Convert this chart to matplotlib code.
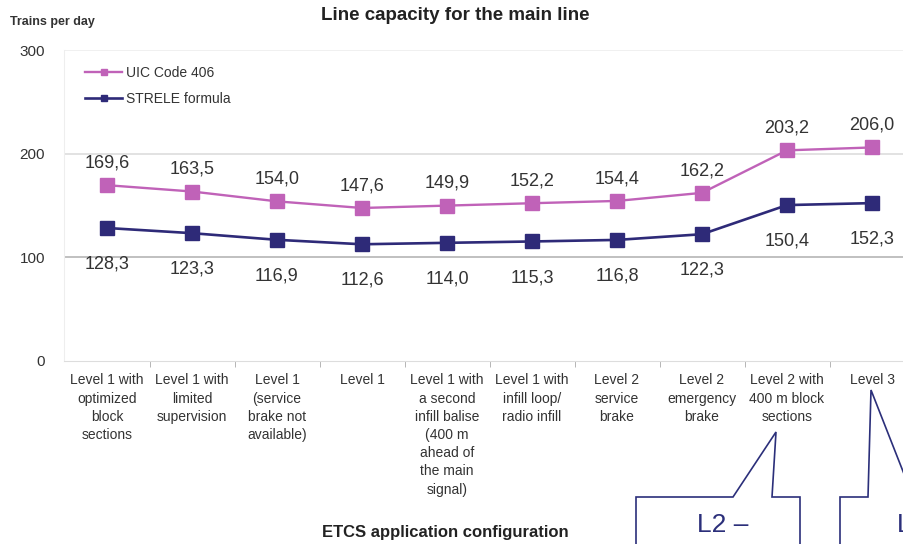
import matplotlib
matplotlib.use('Agg')
import matplotlib.pyplot as plt
from matplotlib.patches import Polygon
from matplotlib.ticker import FixedLocator

plt.rcParams['font.family'] = ['Liberation Sans', 'DejaVu Sans']

categories = [
    "Level 1 with\noptimized\nblock\nsections",
    "Level 1 with\nlimited\nsupervision",
    "Level 1\n(service\nbrake not\navailable)",
    "Level 1",
    "Level 1 with\na second\ninfill balise\n(400 m\nahead of\nthe main\nsignal)",
    "Level 1 with\ninfill loop/\nradio infill",
    "Level 2\nservice\nbrake",
    "Level 2\nemergency\nbrake",
    "Level 2 with\n400 m block\nsections",
    "Level 3",
]
uic_406 = [169.6, 163.5, 154.0, 147.6, 149.9, 152.2, 154.4, 162.2, 203.2, 206.0]
strele = [128.3, 123.3, 116.9, 112.6, 114.0, 115.3, 116.8, 122.3, 150.4, 152.3]

UIC_COL = '#c062b8'
STR_COL = '#2e2a78'
TXT = '#333333'

W, H = 904, 544
fig = plt.figure(figsize=(W / 100, H / 100), dpi=100)
ax = fig.add_axes([64.5 / W, 183 / H, 850 / W, 311 / H])

x = list(range(len(categories)))
ax.plot(x, uic_406, color=UIC_COL, lw=1.7, marker='s', ms=10, label='UIC Code 406')
ax.plot(x, strele, color=STR_COL, lw=1.9, marker='s', ms=10, label='STRELE formula')

def fmt(v):
    return f"{v:.1f}".replace('.', ',')

# UIC values above the markers, STRELE values below
for i, v in enumerate(uic_406):
    ax.annotate(fmt(v), (i, v), xytext=(0, 16), textcoords='offset points',
                ha='center', va='center', fontsize=13, color=TXT)
for i, v in enumerate(strele):
    ax.annotate(fmt(v), (i, v), xytext=(0, -26), textcoords='offset points',
                ha='center', va='center', fontsize=13, color=TXT)

ax.set_xlim(-0.5, len(categories) - 0.5)
ax.set_ylim(0, 300)
ax.set_yticks([0, 100, 200, 300])
ax.set_yticklabels(['0', '100', '200', '300'], fontsize=11, color=TXT)
ax.tick_params(axis='y', length=0, pad=14)
ax.set_xticks(x)
ax.set_xticklabels(categories, fontsize=10, color=TXT, linespacing=1.38, va='top')
ax.tick_params(axis='x', length=0, pad=9)
ax.xaxis.set_minor_locator(FixedLocator([i + 0.5 for i in range(len(categories) - 1)]))
ax.tick_params(axis='x', which='minor', length=4, color='#aaaaaa', direction='out')

for y, c in [(100, '#b5b5b5'), (200, '#dddddd'), (300, '#eeeeee')]:
    ax.axhline(y, color=c, lw=1.2, zorder=0)
for s in ['top', 'right']:
    ax.spines[s].set_visible(False)
ax.spines['left'].set_color('#eeeeee')
ax.spines['bottom'].set_color('#dddddd')

ax.legend(loc='upper left', bbox_to_anchor=(0.01, 0.99), frameon=False, fontsize=10,
          handlelength=2.6, labelspacing=0.9, handletextpad=0.3, labelcolor=TXT,
          markerscale=0.5)

fig.text(455 / W, 1 - 15 / H, 'Line capacity for the main line', ha='center', va='center',
         fontsize=13.5, fontweight='bold', color='#222222')
fig.text(10 / W, 1 - 22 / H, 'Trains per day', ha='left', va='center',
         fontsize=9, fontweight='bold', color=TXT)
fig.text(445 / W, 1 - 533 / H, 'ETCS application configuration', ha='center', va='center',
         fontsize=12, fontweight='bold', color='#222222')

# callout boxes over the lower right
def px(pts):
    return [(a / W, 1 - b / H) for a, b in pts]

callouts = [
    ([(636, 560), (636, 497), (733, 497), (776, 432), (772, 497), (800, 497), (800, 560)],
     (697, 525), 'L2 –'),
    ([(840, 560), (840, 497), (868, 497), (871, 390), (930, 540)],
     (897, 525), 'L3 –'),
]
for pts, (tx, ty), label in callouts:
    fig.add_artist(Polygon(px(pts), closed=False, fill=True, facecolor='white',
                           edgecolor='#2b2f7a', lw=1.2, transform=fig.transFigure))
    fig.text(tx / W, 1 - ty / H, label, ha='left', va='center', fontsize=19,
             color='#2b2f7a')

fig.savefig('out.png', dpi=100)
